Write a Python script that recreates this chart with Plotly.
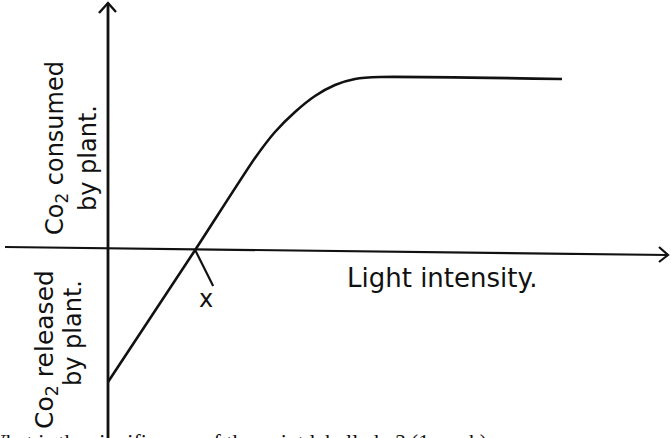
import plotly.graph_objects as go

# Net CO2 exchange of a plant against light intensity (arbitrary units)
light = [0.0, 1.92, 3.238, 3.678, 4.119, 4.559, 5.000, 5.441, 5.991, 10.0]
co2_net = [-7.67, 0.0, 5.349, 6.860, 8.023, 8.953, 9.593, 9.942, 10.058, 9.942]
compensation_x = 1.92

W, H = 671, 438
# axis scale: pixels per data unit and pixel position of the origin
X0PX, XS = 108, 45.4
Y0PX, YS = 250, 17.2

xr = [(0 - X0PX) / XS, (W - X0PX) / XS]
yr = [(Y0PX - H) / YS, Y0PX / YS]

INK = "#111111"
HAND = "'DejaVu Sans', sans-serif"


def px(xp):
    return xp / W


def py(yp):
    return 1 - yp / H


fig = go.Figure()
fig.add_trace(go.Scatter(
    x=light, y=co2_net, mode="lines",
    line=dict(color=INK, width=2.6, shape="spline", smoothing=0.6),
    hoverinfo="skip", showlegend=False,
))

shapes = []
# vertical axis
shapes.append(dict(type="line", xref="x", yref="paper", x0=0, x1=0,
                   y0=0, y1=py(3), line=dict(color=INK, width=2.8)))
# horizontal axis (slightly tilted, hand drawn)
shapes.append(dict(type="line", xref="paper", yref="paper",
                   x0=px(5), y0=py(247), x1=px(668), y1=py(255),
                   line=dict(color=INK, width=2.2)))
# arrow heads
shapes.append(dict(type="path", xref="paper", yref="paper",
                   path=f"M {px(99)},{py(13)} L {px(108)},{py(3)} L {px(116)},{py(12)}",
                   line=dict(color=INK, width=2.4)))
shapes.append(dict(type="path", xref="paper", yref="paper",
                   path=f"M {px(659)},{py(247)} L {px(668)},{py(255)} L {px(659)},{py(262)}",
                   line=dict(color=INK, width=2.2)))
# pointer to the compensation point
shapes.append(dict(type="line", xref="x", yref="y",
                   x0=compensation_x, y0=0,
                   x1=compensation_x + 18 / XS, y1=-36 / YS,
                   line=dict(color=INK, width=2.2)))

ann = []


def txt(text, xp, yp, size, angle=0, font=HAND, xanchor="center",
        yanchor="middle"):
    ann.append(dict(text=text, xref="paper", yref="paper", x=px(xp), y=py(yp),
                    showarrow=False, textangle=angle,
                    xanchor=xanchor, yanchor=yanchor,
                    font=dict(family=font, size=size, color=INK)))


txt("Co<sub>2</sub> consumed", 56, 148, 24, -90)
txt("by plant.", 88, 158, 24, -90)
txt("Co<sub>2</sub> released", 46, 350, 25, -90)
txt("by plant.", 73, 333, 24, -90)
txt("Light intensity.", 442, 278, 26)
txt("x", 206, 299, 24)
txt("What is the significance of the point labelled x? (1 mark)", -17, 427, 22,
    font="'Liberation Serif', 'Times New Roman', serif",
    xanchor="left", yanchor="top")

fig.update_layout(
    width=W, height=H,
    margin=dict(l=0, r=0, t=0, b=0),
    paper_bgcolor="white", plot_bgcolor="white",
    xaxis=dict(range=xr, visible=False, fixedrange=True),
    yaxis=dict(range=yr, visible=False, fixedrange=True),
    shapes=shapes, annotations=ann, showlegend=False,
)

fig.write_html("out.html")
